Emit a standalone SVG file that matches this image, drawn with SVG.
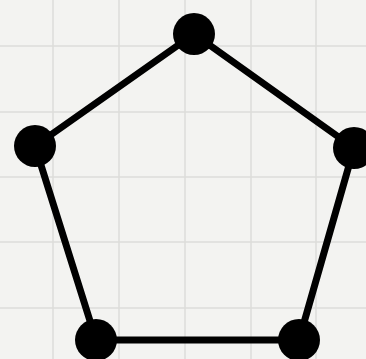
<svg xmlns="http://www.w3.org/2000/svg" width="366" height="359" viewBox="0 0 366 359">
<defs>
<style>
.grid line{stroke:#dcdcda;stroke-width:1.5}
.edge{stroke:#000;stroke-width:7;stroke-linecap:round}
.node{fill:#000}
</style>
</defs>
<rect width="366" height="359" fill="#f3f3f1"/>
<g class="grid">
<line x1="53" y1="0" x2="53" y2="359"/>
<line x1="119" y1="0" x2="119" y2="359"/>
<line x1="185" y1="0" x2="185" y2="359"/>
<line x1="251" y1="0" x2="251" y2="359"/>
<line x1="316" y1="0" x2="316" y2="359"/>
<line x1="0" y1="46" x2="366" y2="46"/>
<line x1="0" y1="112" x2="366" y2="112"/>
<line x1="0" y1="177" x2="366" y2="177"/>
<line x1="0" y1="242" x2="366" y2="242"/>
<line x1="0" y1="308" x2="366" y2="308"/>
</g>
<g id="edges">
<line class="edge" x1="194" y1="34" x2="35" y2="146"/>
<line class="edge" x1="194" y1="34" x2="354" y2="148"/>
<line class="edge" x1="35" y1="146" x2="96" y2="340"/>
<line class="edge" x1="354" y1="148" x2="299" y2="340"/>
<line class="edge" x1="96" y1="340" x2="299" y2="340"/>
</g>
<g id="n1"><circle class="node" cx="194" cy="34" r="21"/></g>
<g id="n2"><circle class="node" cx="35" cy="146" r="21"/></g>
<g id="n3"><circle class="node" cx="354" cy="148" r="21"/></g>
<g id="n4"><circle class="node" cx="96" cy="340" r="21"/></g>
<g id="n5"><circle class="node" cx="299" cy="340" r="21"/></g>
</svg>
